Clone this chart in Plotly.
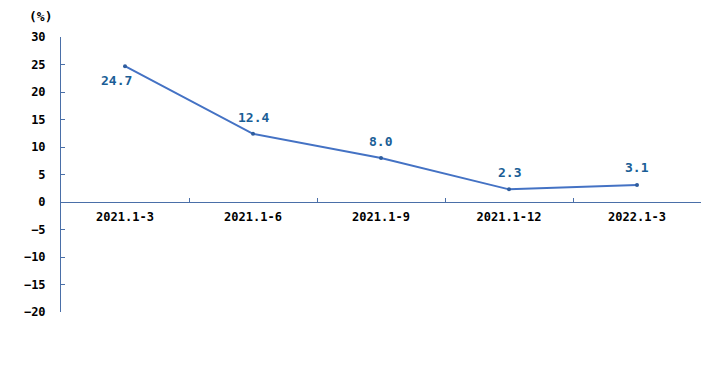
import plotly.graph_objects as go

categories = ["2021.1-3", "2021.1-6", "2021.1-9", "2021.1-12", "2022.1-3"]
values = [24.7, 12.4, 8.0, 2.3, 3.1]
labels = ["24.7", "12.4", "8.0", "2.3", "3.1"]
label_dx = [-9, 0, 0, 0, 0]
label_dy = [-14, 16, 17, 17, 17]

FONT = "DejaVu Sans Mono"
AXIS = "#4a6fa8"

fig = go.Figure()
fig.add_trace(go.Scatter(
    x=categories, y=values, mode="lines+markers",
    line=dict(color="#4472C4", width=2),
    marker=dict(color="#2f5d9e", size=4),
    cliponaxis=False, showlegend=False,
))

for c, v, t, dx, dy in zip(categories, values, labels, label_dx, label_dy):
    fig.add_annotation(
        x=c, y=v, text=t, showarrow=False, xshift=dx, yshift=dy,
        font=dict(family=FONT, size=13, color="#1a5e96", weight="bold"),
    )

fig.add_annotation(
    text="(%)", x=(40 - 61) / 640, y=(312 - 17) / 275,
    xref="paper", yref="paper", xanchor="center", yanchor="middle",
    showarrow=False, font=dict(family=FONT, size=13, color="black", weight="bold"),
)

# page body has an 8px default margin; margins compensate for it
fig.update_layout(
    width=719, height=371,
    margin=dict(l=53, r=26, t=29, b=67, autoexpand=False),
    plot_bgcolor="white", paper_bgcolor="white",
    xaxis=dict(
        type="category", range=[-0.5, 4.5], automargin=False,
        anchor="free", position=0.4,
        showline=True, linecolor=AXIS, linewidth=1,
        ticks="inside", ticklen=4, tickcolor=AXIS, tickson="boundaries",
        showgrid=False, zeroline=False,
        tickfont=dict(family=FONT, size=12, color="black", weight="bold"),
        ticklabelstandoff=4,
    ),
    yaxis=dict(
        range=[-20, 30], dtick=5, tick0=0, automargin=False,
        showline=True, linecolor=AXIS, linewidth=1,
        ticks="inside", ticklen=4, tickcolor=AXIS,
        showgrid=False, zeroline=False,
        tickfont=dict(family=FONT, size=12, color="black", weight="bold"),
        ticklabelstandoff=12,
    ),
)

fig.write_html("out.html")
